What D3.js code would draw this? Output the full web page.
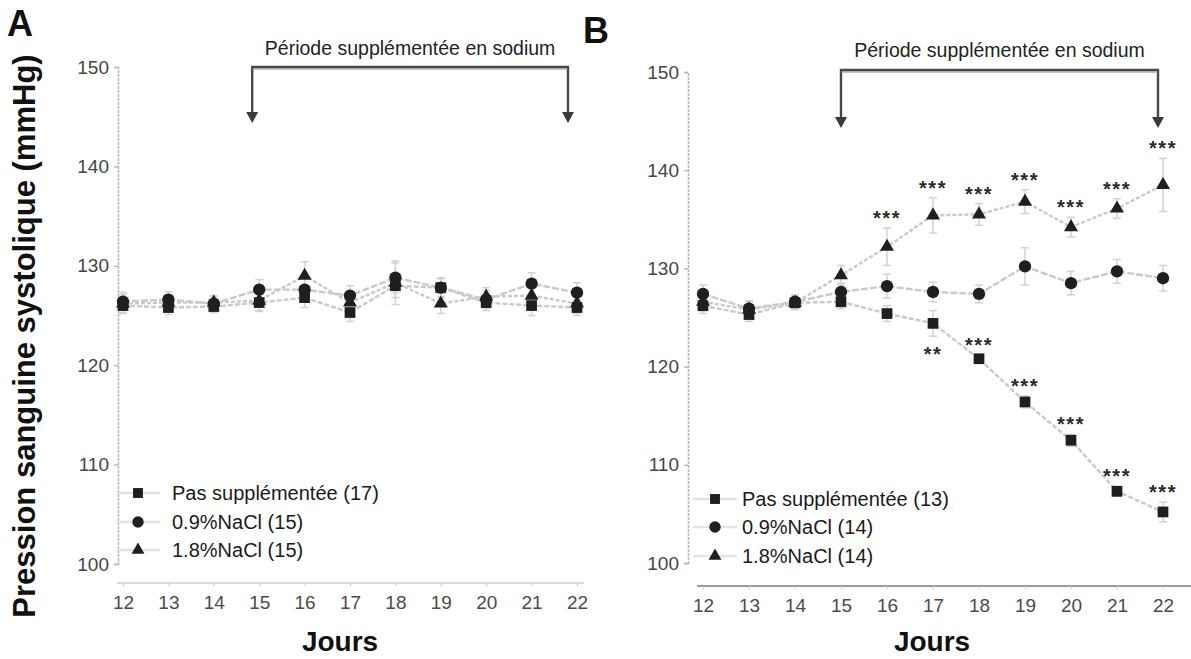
<!DOCTYPE html>
<html>
<head>
<meta charset="utf-8">
<script src="https://cdn.jsdelivr.net/npm/d3@7"></script>
<style>
  html, body { margin: 0; padding: 0; background: #fff; }
  svg { display: block; font-family: "Liberation Sans", Arial, Helvetica, sans-serif; }
</style>
</head>
<body>
<svg id="chart" width="1191" height="659"></svg>
<script>
// ---- data -------------------------------------------------------------
const days = [12, 13, 14, 15, 16, 17, 18, 19, 20, 21, 22];
const yTickValues = [100, 110, 120, 130, 140, 150];
const seriesNames = ["Pas supplémentée", "0.9%NaCl", "1.8%NaCl"];
const groupSizesA = [17, 15, 15];
const groupSizesB = [13, 14, 14];
const periodLabel = "Période supplémentée en sodium";
const periodDays = [15, 22];

// Panel A: mean systolic pressure (mmHg) and SEM
const aPas     = [126.0, 125.8, 125.9, 126.3, 126.8, 125.3, 128.0, 127.8, 126.3, 126.0, 125.8];
const aPasSem  = [0.8, 0.7, 0.6, 0.9, 1.0, 0.9, 1.2, 0.9, 0.8, 1.0, 0.8];
const aNa09    = [126.4, 126.6, 126.2, 127.6, 127.6, 127.0, 128.8, 127.8, 126.6, 128.2, 127.3];
const aNa09Sem = [0.9, 0.8, 0.7, 1.0, 1.2, 1.0, 1.5, 1.0, 0.9, 1.1, 1.0];
const aNa18    = [126.2, 126.3, 126.3, 126.5, 129.0, 126.3, 128.3, 126.2, 126.9, 127.0, 126.2];
const aNa18Sem = [0.9, 0.8, 0.7, 1.0, 1.4, 1.1, 2.2, 1.0, 0.9, 1.2, 1.0];

// Panel B: mean systolic pressure (mmHg) and SEM
const bPas     = [126.2, 125.3, 126.5, 126.6, 125.4, 124.4, 120.8, 116.4, 112.5, 107.3, 105.2];
const bPasSem  = [0.8, 0.7, 0.6, 0.7, 0.8, 1.3, 0.4, 0.6, 0.6, 0.5, 1.0];
const bNa09    = [127.4, 125.9, 126.6, 127.6, 128.2, 127.6, 127.4, 130.2, 128.5, 129.7, 129.0];
const bNa09Sem = [0.9, 0.8, 0.7, 0.9, 1.2, 1.0, 0.9, 1.9, 1.2, 1.2, 1.3];
const bNa18    = [126.6, 125.8, 126.5, 129.3, 132.2, 135.4, 135.5, 136.8, 134.2, 136.1, 138.5];
const bNa18Sem = [0.9, 0.8, 0.7, 1.0, 1.9, 1.8, 1.1, 1.2, 1.0, 1.0, 2.7];

// Significance marks (panel B)
const bPasSig  = ["", "", "", "", "", "**", "***", "***", "***", "***", "***"];
const bNa09Sig = ["", "", "", "", "", "", "", "", "", "", ""];
const bNa18Sig = ["", "", "", "", "***", "***", "***", "***", "***", "***", "***"];

// ---- drawing ------------------------------------------------------------
const svg = d3.select("#chart");
const markerShapes = [d3.symbolSquare, d3.symbolCircle, d3.symbolTriangle];
const markerSizes = [115, 120, 85];
const ink = "#1f1f1f";
const lineGrey = "#c9c9c9";
const fontStack = "'Liberation Sans', Arial, sans-serif";

function buildSeries(means, sems, sigs) {
  return means.map((m, i) => ({ day: days[i], mean: m, sem: sems[i], sig: sigs ? sigs[i] : "" }));
}

function drawPanel(cfg) {
  const g = svg.append("g");
  const x = d3.scaleLinear().domain([12, 22]).range(cfg.xRange);
  const y = d3.scaleLinear().domain([100, 150]).range(cfg.yRange);

  // y axis
  const yAxis = g.append("g")
    .attr("transform", `translate(${cfg.yAxisX},0)`)
    .call(d3.axisLeft(y).tickValues(yTickValues).tickSize(4).tickPadding(5).tickFormat(d3.format("d")));
  yAxis.select(".domain").attr("stroke", "#b8b8b8").attr("stroke-width", 1.5).attr("stroke-dasharray", "3,1");
  yAxis.selectAll(".tick line").attr("stroke", "#b8b8b8").attr("stroke-width", 1.5);
  yAxis.selectAll(".tick text")
    .attr("fill", "#454545").attr("font-size", 19).attr("font-family", fontStack);

  // x axis (offset below 100)
  const xAxis = g.append("g")
    .attr("transform", `translate(0,${cfg.xAxisY})`)
    .call(d3.axisBottom(x).tickValues(days).tickSize(3).tickPadding(10).tickFormat(d3.format("d")));
  xAxis.select(".domain")
    .attr("d", `M${cfg.xAxisSpan[0]},0H${cfg.xAxisSpan[1]}`)
    .attr("stroke", cfg.xAxisColor).attr("stroke-width", 1.5);
  xAxis.selectAll(".tick line").attr("stroke", "#c8c8c8");
  xAxis.selectAll(".tick text")
    .attr("fill", "#4a4a4a").attr("font-size", 19).attr("font-family", fontStack);

  // x title
  g.append("text")
    .attr("x", cfg.xTitleX).attr("y", cfg.xTitleY)
    .attr("text-anchor", "middle").attr("font-size", 28).attr("font-weight", "bold")
    .attr("fill", "#111").text("Jours");

  // panel letter
  g.append("text")
    .attr("x", cfg.letterPos[0]).attr("y", cfg.letterPos[1])
    .attr("font-size", 36).attr("font-weight", "bold").attr("fill", "#111")
    .text(cfg.letter);

  // supplementation period bracket
  const bx0 = x(periodDays[0]) - cfg.bracketInset[0], bx1 = x(periodDays[1]) - cfg.bracketInset[1];
  const bTop = cfg.bracketTop, bTip = cfg.bracketTip;
  g.append("text")
    .attr("x", (bx0 + bx1) / 2).attr("y", cfg.periodTextY)
    .attr("text-anchor", "middle").attr("font-size", 19.5).attr("fill", "#222")
    .text(periodLabel);
  g.append("path")
    .attr("d", `M${bx0},${bTip - 9}V${bTop}H${bx1}V${bTip - 9}`)
    .attr("fill", "none").attr("stroke", "#474747").attr("stroke-width", 2.4);
  g.append("line")
    .attr("x1", bx0).attr("x2", bx1).attr("y1", bTop + 2).attr("y2", bTop + 2)
    .attr("stroke", "#8a8a8a").attr("stroke-width", 1.2);
  [bx0, bx1].forEach(bx => {
    g.append("path")
      .attr("d", `M${bx - 6},${bTip - 11}L${bx + 6},${bTip - 11}L${bx},${bTip}Z`)
      .attr("fill", "#3a3a3a");
  });

  const series = cfg.series;

  // connecting lines
  const line = d3.line().x(d => x(d.day)).y(d => y(d.mean));
  series.forEach((s, si) => {
    g.append("path").datum(s)
      .attr("d", line)
      .attr("fill", "none").attr("stroke", lineGrey).attr("stroke-width", 2.4)
      .attr("stroke-dasharray", si === 0 ? "5,2" : si === 1 ? "7,2" : "4,2");
  });

  // error bars
  series.forEach(s => {
    const eg = g.append("g").selectAll("g").data(s).join("g");
    eg.append("line")
      .attr("x1", d => x(d.day)).attr("x2", d => x(d.day))
      .attr("y1", d => y(d.mean - d.sem)).attr("y2", d => y(d.mean + d.sem))
      .attr("stroke", "#d2d2d2").attr("stroke-width", 1.5);
    [-1, 1].forEach(sign => {
      eg.append("line")
        .attr("x1", d => x(d.day) - 4).attr("x2", d => x(d.day) + 4)
        .attr("y1", d => y(d.mean + sign * d.sem)).attr("y2", d => y(d.mean + sign * d.sem))
        .attr("stroke", "#d2d2d2").attr("stroke-width", 1.5);
    });
  });

  // markers
  series.forEach((s, si) => {
    g.append("g").selectAll("path").data(s).join("path")
      .attr("transform", d => `translate(${x(d.day)},${y(d.mean)})`)
      .attr("d", d3.symbol().type(markerShapes[si]).size(markerSizes[si]))
      .attr("fill", ink);
  });

  // significance marks: above the error bar, or below it when that spot is taken by another group
  series.forEach((s, si) => {
    s.forEach((d, i) => {
      if (!d.sig) return;
      let cy = y(d.mean + d.sem) - 14;
      const crowded = series.some((o, oi) => oi !== si && Math.abs(y(o[i].mean) - cy) < 16);
      if (crowded) cy = y(d.mean - d.sem) + 14;
      g.append("text")
        .attr("x", x(d.day)).attr("y", cy + 11)
        .attr("text-anchor", "middle").attr("font-size", 20).attr("font-weight", "bold")
        .attr("letter-spacing", 1.5).attr("fill", "#2a2a2a")
        .text(d.sig);
    });
  });

  // legend
  const lg = g.append("g");
  seriesNames.forEach((name, si) => {
    const ly = cfg.legendY[si];
    lg.append("line")
      .attr("x1", cfg.legendX - 22).attr("x2", cfg.legendX + 22)
      .attr("y1", ly).attr("y2", ly)
      .attr("stroke", "#e3e3e3").attr("stroke-width", 2.4);
    lg.append("path")
      .attr("transform", `translate(${cfg.legendX},${ly})`)
      .attr("d", d3.symbol().type(markerShapes[si]).size(markerSizes[si] * 0.85))
      .attr("fill", ink);
    lg.append("text")
      .attr("x", cfg.legendTextX).attr("y", ly + 7)
      .attr("font-size", 20).attr("fill", "#1a1a1a")
      .text(`${name} (${cfg.groupSizes[si]})`);
  });
}

drawPanel({
  letter: "A", letterPos: [7, 36],
  xRange: [123, 577], yRange: [564, 67],
  yAxisX: 118, xAxisY: 583, xAxisSpan: [117, 584], xAxisColor: "#d0d0d0",
  xTitleX: 340, xTitleY: 651,
  bracketTop: 67, bracketTip: 123, bracketInset: [7, 9], periodTextY: 55,
  legendX: 138, legendTextX: 172, legendY: [493, 522, 550],
  groupSizes: groupSizesA,
  series: [buildSeries(aPas, aPasSem), buildSeries(aNa09, aNa09Sem), buildSeries(aNa18, aNa18Sem)]
});

drawPanel({
  letter: "B", letterPos: [583, 43],
  xRange: [703, 1163], yRange: [563, 72],
  yAxisX: 688, xAxisY: 586, xAxisSpan: [697, 1191], xAxisColor: "#7a7a7a",
  xTitleX: 932, xTitleY: 651,
  bracketTop: 70, bracketTip: 128, bracketInset: [0, 5], periodTextY: 57,
  legendX: 715, legendTextX: 742, legendY: [499, 527, 556],
  groupSizes: groupSizesB,
  series: [buildSeries(bPas, bPasSem, bPasSig), buildSeries(bNa09, bNa09Sem, bNa09Sig), buildSeries(bNa18, bNa18Sem, bNa18Sig)]
});

// shared y title
svg.append("text")
  .attr("transform", "translate(24,336) rotate(-90)")
  .attr("text-anchor", "middle").attr("dominant-baseline", "central")
  .attr("font-size", 31).attr("font-weight", "bold").attr("fill", "#111")
  .text("Pression sanguine systolique (mmHg)");
</script>
</body>
</html>
